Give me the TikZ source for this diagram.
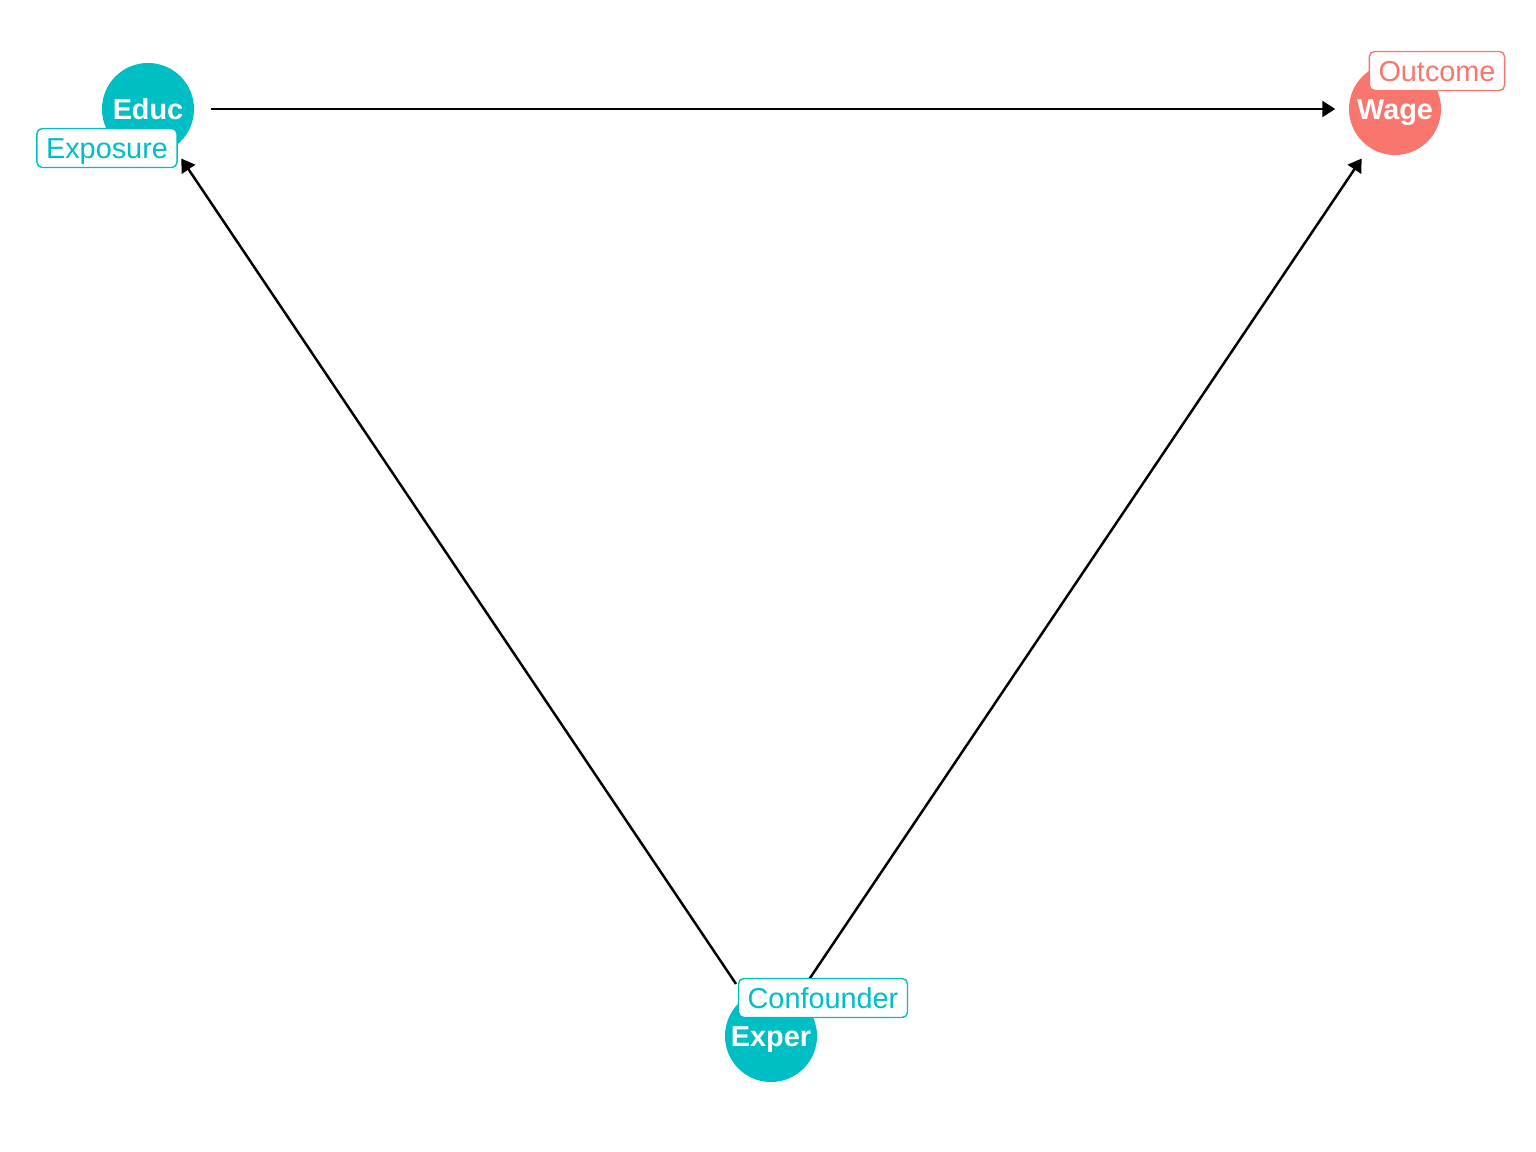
\documentclass[tikz,border=0pt]{standalone}
\usepackage{fontspec}
\setmainfont{Liberation Sans}
\usetikzlibrary{arrows.meta}

\definecolor{teal}{HTML}{00BFC4}
\definecolor{salmon}{HTML}{F8766D}

\begin{document}
\begin{tikzpicture}[x=0.01cm,y=-0.01cm,
  var/.style={circle,inner sep=0pt,minimum size=0.92cm,text=white,text height=6pt,text depth=0pt,font=\fontsize{8.2}{10}\selectfont\bfseries},
  tag/.style={draw=#1,text=#1,fill=white,rounded corners=1.5pt,line width=0.4pt,inner xsep=2.6pt,inner ysep=0pt,text height=6pt,text depth=0pt,minimum height=0.39cm,font=\fontsize{8.2}{10}\selectfont},
  edge/.style={-{Triangle[length=0.13cm,width=0.16cm]},line width=0.7pt,shorten <=0.16cm,shorten >=0.13cm}]
\useasboundingbox (0,0) rectangle (1536,1152);
\node[var,fill=teal] (educ) at (148,109) {Educ};
\node[var,fill=salmon] (wage) at (1395,109) {Wage};
\node[var,fill=teal] (exper) at (771,1036) {Exper};
\draw[edge] (educ) -- (wage);
\draw[edge] (exper) -- (educ);
\draw[edge] (exper) -- (wage);
\node[tag=teal] (educlab) at (107,148) {Exposure};
\node[tag=salmon] (wagelab) at (1437,71) {Outcome};
\node[tag=teal] (experlab) at (823,998) {Confounder};
\end{tikzpicture}
\end{document}
